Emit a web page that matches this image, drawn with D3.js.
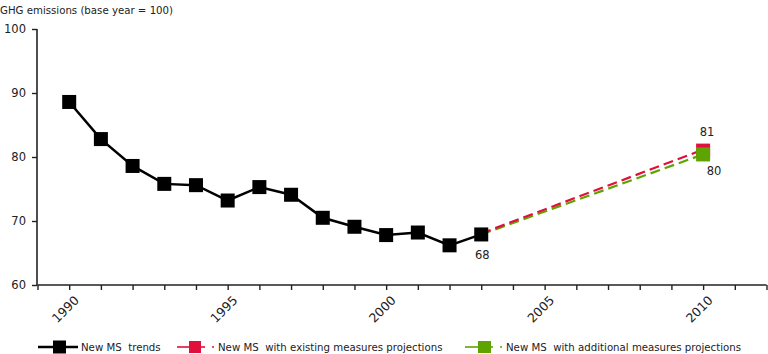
<!DOCTYPE html>
<html>
<head>
<meta charset="utf-8">
<script src="https://cdn.jsdelivr.net/npm/d3@7"></script>
<style>
  body { margin: 0; background: #fff; }
  text { font-family: "DejaVu Sans", Verdana, sans-serif; fill: #222; white-space: pre; }
</style>
</head>
<body>
<div id="chart"></div>
<script>
const WIDTH = 768;
const HEIGHT = 354;

// data
const trendYears = [1990, 1991, 1992, 1993, 1994, 1995, 1996, 1997, 1998, 1999, 2000, 2001, 2002, 2003];
const trendValues = [88.6, 82.8, 78.6, 75.8, 75.6, 73.2, 75.3, 74.1, 70.5, 69.1, 67.8, 68.2, 66.2, 67.9];
const projYears = [2003, 2010];
const existingValues = [67.9, 81.0];
const additionalValues = [67.9, 80.4];
const xTickYears = [1989, 1990, 1991, 1992, 1993, 1994, 1995, 1996, 1997, 1998, 1999, 2000,
                    2001, 2002, 2003, 2004, 2005, 2006, 2007, 2008, 2009, 2010, 2011, 2012];
const xLabelYears = [1990, 1995, 2000, 2005, 2010];
const yTicks = [60, 70, 80, 90, 100];
const seriesNames = ["New MS  trends", "New MS  with existing measures projections", "New MS  with additional measures projections"];

const RED = "#e0103c";
const GREEN = "#5ea400";

const svg = d3.select("#chart").append("svg")
    .attr("width", WIDTH)
    .attr("height", HEIGHT);

const x = d3.scaleLinear().domain([1989, 2012]).range([37.5, 766.5]);
const y = d3.scaleLinear().domain([60, 100]).range([285, 29]);

// title
svg.append("text")
    .attr("x", 0)
    .attr("y", 14)
    .style("font-size", "10.2px")
    .text("GHG emissions (base year = 100)");

// Y axis
const yAxis = svg.append("g")
    .attr("transform", "translate(37,0)")
    .call(d3.axisLeft(y).tickValues(yTicks).tickSize(5).tickPadding(6).tickFormat(d3.format("d")));
yAxis.select(".domain").attr("stroke", "#222").attr("stroke-width", 1.6).attr("d", "M0," + y(100) + "V" + y(60));
yAxis.selectAll(".tick line").attr("stroke", "#222").attr("stroke-width", 1.4);
yAxis.selectAll(".tick text").style("font-size", "11.5px").style("font-family", "DejaVu Sans, sans-serif").attr("fill", "#222");

// X axis
const xAxis = svg.append("g")
    .attr("transform", "translate(0,285)")
    .call(d3.axisBottom(x).tickValues(xTickYears).tickSize(5)
        .tickFormat(d => xLabelYears.includes(d) ? String(d) : ""));
xAxis.select(".domain").attr("stroke", "#222").attr("stroke-width", 1.6).attr("d", "M" + x(1989) + ",0H" + x(2012));
xAxis.selectAll(".tick line").attr("stroke", "#222").attr("stroke-width", 1.4);
xAxis.selectAll(".tick text")
    .style("font-size", "12.5px")
    .style("font-family", "DejaVu Sans, sans-serif")
    .attr("fill", "#222")
    .attr("text-anchor", "end")
    .attr("transform", "translate(7,13) rotate(-45)")
    .attr("dy", "0.35em")
    .attr("y", 0);

// projection lines (dashed)
const line = d3.line().x(d => x(d[0])).y(d => y(d[1]));
const existingPts = projYears.map((yr, i) => [yr, existingValues[i]]);
const additionalPts = projYears.map((yr, i) => [yr, additionalValues[i]]);

svg.append("path").datum(additionalPts)
    .attr("d", line).attr("fill", "none")
    .attr("stroke", GREEN).attr("stroke-width", 2.2).attr("stroke-dasharray", "10,5");
svg.append("path").datum(existingPts)
    .attr("d", line).attr("fill", "none")
    .attr("stroke", RED).attr("stroke-width", 2.2).attr("stroke-dasharray", "10,5")
    .attr("transform", "translate(0,-1)");

// trend line
const trendPts = trendYears.map((yr, i) => [yr, trendValues[i]]);
svg.append("path").datum(trendPts)
    .attr("d", line).attr("fill", "none")
    .attr("stroke", "#000").attr("stroke-width", 2.5);

const M = 14;
svg.selectAll(".trend-pt").data(trendPts).enter().append("rect")
    .attr("x", d => x(d[0]) - M / 2)
    .attr("y", d => y(d[1]) - M / 2)
    .attr("width", M).attr("height", M)
    .attr("fill", "#000");

// projection end markers
svg.append("rect")
    .attr("x", x(2010) - M / 2).attr("y", y(existingValues[1]) - M / 2)
    .attr("width", M).attr("height", M).attr("fill", RED);
svg.append("rect")
    .attr("x", x(2010) - M / 2).attr("y", y(additionalValues[1]) - M / 2)
    .attr("width", M).attr("height", M).attr("fill", GREEN);

// value labels
svg.append("text").attr("x", x(2003) + 1).attr("y", y(trendValues[13]) + 25)
    .attr("text-anchor", "middle").style("font-size", "11.5px").text(d3.format(".0f")(trendValues[13]));
svg.append("text").attr("x", x(2010) + 4).attr("y", y(existingValues[1]) - 15)
    .attr("text-anchor", "middle").style("font-size", "11.5px").text(d3.format(".0f")(existingValues[1]));
svg.append("text").attr("x", x(2010) + 11).attr("y", y(additionalValues[1]) + 21)
    .attr("text-anchor", "middle").style("font-size", "11.5px").text(d3.format(".0f")(additionalValues[1]));

// legend
const LY = 347;
const legend = svg.append("g");

// trends
legend.append("line").attr("x1", 38).attr("x2", 78).attr("y1", LY).attr("y2", LY)
    .attr("stroke", "#000").attr("stroke-width", 2.5);
legend.append("rect").attr("x", 53).attr("y", LY - 6.5).attr("width", 13).attr("height", 13).attr("fill", "#000");
legend.append("text").attr("x", 81).attr("y", LY + 4).style("font-size", "10.2px").text(seriesNames[0]);

// existing measures
legend.append("line").attr("x1", 177).attr("x2", 205).attr("y1", LY).attr("y2", LY)
    .attr("stroke", RED).attr("stroke-width", 1.6);
legend.append("line").attr("x1", 212).attr("x2", 214).attr("y1", LY).attr("y2", LY)
    .attr("stroke", RED).attr("stroke-width", 1.6);
legend.append("rect").attr("x", 189).attr("y", LY - 6).attr("width", 12).attr("height", 12).attr("fill", RED);
legend.append("text").attr("x", 218).attr("y", LY + 4).style("font-size", "10.2px").text(seriesNames[1]);

// additional measures
legend.append("line").attr("x1", 465).attr("x2", 493).attr("y1", LY).attr("y2", LY)
    .attr("stroke", GREEN).attr("stroke-width", 1.6);
legend.append("line").attr("x1", 500).attr("x2", 502).attr("y1", LY).attr("y2", LY)
    .attr("stroke", GREEN).attr("stroke-width", 1.6);
legend.append("rect").attr("x", 478).attr("y", LY - 6).attr("width", 13).attr("height", 12).attr("fill", GREEN);
legend.append("text").attr("x", 506).attr("y", LY + 4).style("font-size", "10.2px").text(seriesNames[2]);
</script>
</body>
</html>
